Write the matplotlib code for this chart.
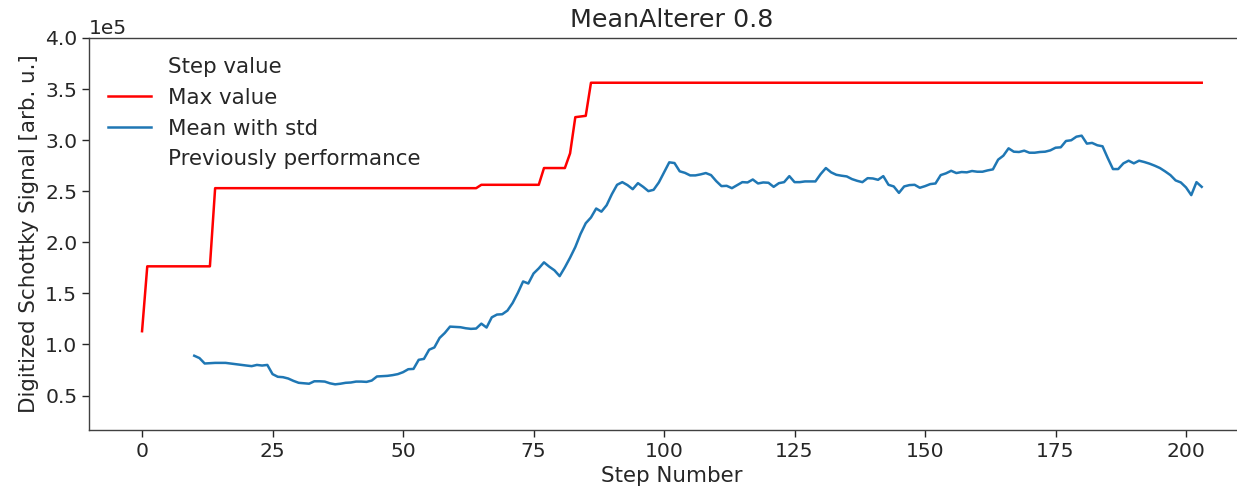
import numpy as np
import matplotlib
matplotlib.use("Agg")
import matplotlib.pyplot as plt
from matplotlib.lines import Line2D

# running maximum of the step value (x where it changes, value in 1e5)
max_steps = [0, 1, 13, 14, 64, 65, 76, 77, 81, 82, 83, 85, 86, 203]
max_vals = [1.13, 1.765, 1.765, 2.53, 2.53, 2.563, 2.563, 2.727, 2.727,
            2.871, 3.225, 3.238, 3.562, 3.562]

# mean of the last steps, starting at step 10 (in 1e5)
mean_start = 10
mean_vals = [
    0.890, 0.867, 0.814, 0.817, 0.820, 0.820, 0.820, 0.814, 0.807, 0.800,   # 10-19
    0.794, 0.788, 0.800, 0.794, 0.800, 0.710, 0.684, 0.680, 0.667, 0.644,   # 20-29
    0.625, 0.620, 0.616, 0.640, 0.640, 0.637, 0.620, 0.610, 0.616, 0.625,   # 30-39
    0.628, 0.637, 0.637, 0.634, 0.647, 0.687, 0.690, 0.693, 0.700, 0.710,   # 40-49
    0.729, 0.758, 0.761, 0.850, 0.859, 0.949, 0.971, 1.064, 1.113, 1.175,   # 50-59
    1.172, 1.169, 1.159, 1.153, 1.156, 1.204, 1.166, 1.266, 1.293, 1.296,   # 60-69
    1.332, 1.407, 1.506, 1.617, 1.597, 1.695, 1.745, 1.804, 1.762, 1.726,   # 70-79
    1.669, 1.755, 1.850, 1.954, 2.082, 2.187, 2.243, 2.331, 2.300, 2.363,   # 80-89
    2.471, 2.563, 2.589, 2.560, 2.520, 2.579, 2.543, 2.501, 2.514, 2.586,   # 90-99
    2.685, 2.783, 2.776, 2.695, 2.680, 2.655, 2.655, 2.665, 2.678, 2.658,   # 100-109
    2.599, 2.550, 2.553, 2.530, 2.560, 2.589, 2.586, 2.615, 2.576, 2.586,   # 110-119
    2.583, 2.543, 2.579, 2.589, 2.648, 2.589, 2.589, 2.596, 2.596, 2.596,   # 120-129
    2.668, 2.727, 2.685, 2.661, 2.652, 2.645, 2.619, 2.602, 2.589, 2.628,   # 130-139
    2.625, 2.612, 2.648, 2.563, 2.547, 2.484, 2.547, 2.560, 2.563, 2.534,   # 140-149
    2.550, 2.570, 2.576, 2.658, 2.675, 2.700, 2.678, 2.688, 2.685, 2.698,   # 150-159
    2.691, 2.691, 2.704, 2.714, 2.809, 2.848, 2.920, 2.887, 2.884, 2.897,   # 160-169
    2.877, 2.877, 2.884, 2.887, 2.900, 2.926, 2.930, 2.992, 2.999, 3.034,   # 170-179
    3.044, 2.966, 2.973, 2.950, 2.940, 2.825, 2.717, 2.717, 2.773, 2.799,   # 180-189
    2.773, 2.799, 2.786, 2.770, 2.750, 2.727, 2.694, 2.658, 2.606, 2.586,   # 190-199
    2.537, 2.462, 2.589, 2.543,                                             # 200-203
]

legend_labels = ["Step value", "Max value", "Mean with std", "Previously performance"]

txt = "#262626"
plt.rcParams["font.family"] = ["DejaVu Sans"]
plt.rcParams["text.color"] = txt
plt.rcParams["axes.labelcolor"] = txt
plt.rcParams["xtick.color"] = txt
plt.rcParams["ytick.color"] = txt

fig = plt.figure(figsize=(12.37, 4.92), dpi=100)
# axes runs a bit past the right edge of the figure
ax = fig.add_axes([0.0720, 0.1260, 0.9423, 0.7968])

mean_x = np.arange(mean_start, mean_start + len(mean_vals))
ax.plot(max_steps, np.array(max_vals) * 1e5, color="red", lw=1.8)
ax.plot(mean_x, np.array(mean_vals) * 1e5, color="#1f77b4", lw=1.8)

ax.set_xlim(-10.15, 213.15)
ax.set_ylim(0.163e5, 4.0e5)
ax.set_xticks(np.arange(0, 201, 25))
ax.set_yticks(np.arange(0.5, 4.01, 0.5) * 1e5)
ax.ticklabel_format(axis="y", style="sci", scilimits=(0, 0))
ax.tick_params(labelsize=14.6, length=5, width=1.0, direction="out")
ax.yaxis.get_offset_text().set_fontsize(14.6)

for side in ["left", "bottom", "top", "right"]:
    ax.spines[side].set_color("#404040")
    ax.spines[side].set_linewidth(1.0)
ax.spines["right"].set_visible(False)

ax.set_title("MeanAlterer 0.8", fontsize=18.3, pad=8)
ax.set_xlabel("Step Number", fontsize=15.4)
ax.set_ylabel("Digitized Schottky Signal [arb. u.]", fontsize=15.4)

handles = [
    Line2D([], [], linestyle="none"),
    Line2D([], [], color="red", lw=1.8),
    Line2D([], [], color="#1f77b4", lw=1.8),
    Line2D([], [], linestyle="none"),
]
ax.legend(handles, legend_labels, loc="upper left", frameon=False, fontsize=15.4)

fig.savefig("out.png", dpi=100)
